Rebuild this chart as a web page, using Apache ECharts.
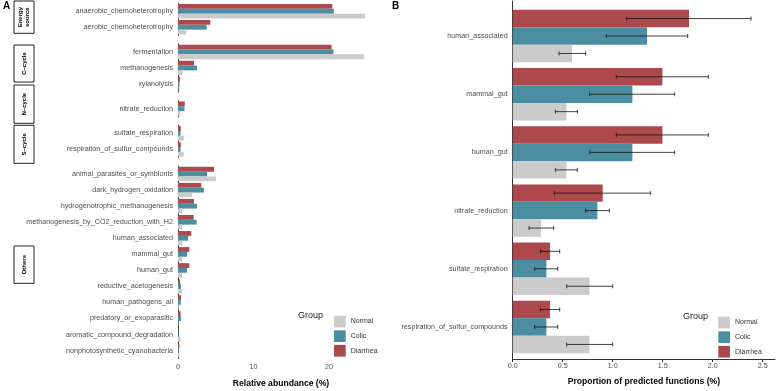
<!DOCTYPE html>
<html>
<head>
<meta charset="utf-8">
<script src="https://cdn.jsdelivr.net/npm/echarts@6/dist/echarts.min.js"></script>
<style>
  html, body { margin: 0; padding: 0; background: #fff; }
  #chart { width: 776px; height: 391px; }
</style>
</head>
<body>
<div id="chart"></div>
<script>
var chart = echarts.init(document.getElementById('chart'));

// ---- panel A data (top to bottom) ----
let funcsA = [
    'anaerobic_chemoheterotrophy', 'aerobic_chemoheterotrophy',
    'fermentation', 'methanogenesis', 'xylanolysis',
    'nitrate_reduction',
    'sulfate_respiration', 'respiration_of_sulfur_compounds',
    'animal_parasites_or_symbionts', 'dark_hydrogen_oxidation', 'hydrogenotrophic_methanogenesis',
    'methanogenesis_by_CO2_reduction_with_H2', 'human_associated', 'mammal_gut', 'human_gut',
    'reductive_acetogenesis', 'human_pathogens_all', 'predatory_or_exoparasitic',
    'aromatic_compound_degradation', 'nonphotosynthetic_cyanobacteria'
];
let facetNames = ['Energy\nsource', 'C\u2013cycle', 'N\u2013cycle', 'S\u2013cycle', 'Others'];
let facetSizes = [2, 3, 1, 2, 12];
let normalA = [24.8, 1.1, 24.65, 0.58, 0.05, 0.28, 0.77, 0.77, 5.03, 1.9, 0.57, 0.53, 0.59, 0.54, 0.54, 0.53, 0.1, 0.05, 0.35, 0.1];
let colicA = [20.65, 3.8, 20.6, 2.52, 0.2, 0.85, 0.34, 0.34, 3.84, 3.44, 2.52, 2.47, 1.34, 1.2, 1.2, 0.4, 0.35, 0.4, 0.1, 0.12];
let diarrheaA = [20.45, 4.28, 20.35, 2.12, 0.27, 0.9, 0.37, 0.37, 4.77, 3.09, 2.12, 2.08, 1.76, 1.5, 1.5, 0.27, 0.4, 0.35, 0.05, 0.18];
let ticksA = [0, 10, 20];

// ---- panel B data ----
let funcsB = ['human_associated', 'mammal_gut', 'human_gut', 'nitrate_reduction', 'sulfate_respiration', 'respiration_of_sulfur_compounds'];
let normalB = [0.593, 0.537, 0.537, 0.283, 0.767, 0.767];
let normalLo = [0.463, 0.427, 0.427, 0.163, 0.54, 0.54];
let normalHi = [0.73, 0.647, 0.647, 0.41, 1.0, 1.0];
let colicB = [1.343, 1.197, 1.197, 0.847, 0.337, 0.337];
let colicLo = [0.936, 0.77, 0.77, 0.73, 0.22, 0.22];
let colicHi = [1.75, 1.62, 1.62, 0.967, 0.45, 0.45];
let diarrheaB = [1.763, 1.497, 1.497, 0.90, 0.373, 0.373];
let diarrheaLo = [1.14, 1.036, 1.036, 0.417, 0.277, 0.277];
let diarrheaHi = [2.383, 1.956, 1.956, 1.38, 0.47, 0.47];
let ticksB = [0, 0.5, 1.0, 1.5, 2.0, 2.5];

let groups = ['Normal', 'Colic', 'Diarrhea'];
let colors = {Normal: '#CBCBCB', Colic: '#4B8EA2', Diarrhea: '#AD484C'};
let font = 'Liberation Sans';
let axisCol = '#333333';
let labelCol = '#4D4D4D';

let grids = [], xAxes = [], yAxes = [], series = [];

// panel A: one grid per facet
let unitA = 16.05, gapA = 5.4;
let panelTop = 1.6, start = 0;
facetSizes.forEach((n, i) => {
    let last = i === facetSizes.length - 1;
    grids.push({left: 178, width: 206, top: panelTop + 0.1 * unitA, height: n * unitA});
    xAxes.push({
        gridIndex: i, type: 'value', min: 0, max: 27.3, interval: 10, show: last,
        offset: 1.6,
        axisLine: {lineStyle: {color: axisCol, width: 1}},
        axisTick: {length: 2.5, lineStyle: {color: axisCol}, customValues: ticksA},
        axisLabel: {fontSize: 7.2, color: labelCol, margin: 3, fontFamily: font, customValues: ticksA},
        splitLine: {show: false},
        name: 'Relative abundance (%)', nameLocation: 'middle', nameGap: 19,
        nameTextStyle: {fontSize: 8.6, fontWeight: 'bold', color: '#000', fontFamily: font}
    });
    yAxes.push({
        gridIndex: i, type: 'category', inverse: true,
        data: funcsA.slice(start, start + n),
        axisLine: {lineStyle: {color: axisCol, width: 1}},
        axisTick: {alignWithLabel: true, length: 2.5, lineStyle: {color: axisCol}},
        axisLabel: {fontSize: 7.2, color: labelCol, margin: 5, fontFamily: font}
    });
    let vals = {Normal: normalA, Colic: colicA, Diarrhea: diarrheaA};
    ['Diarrhea', 'Colic', 'Normal'].forEach(g => {
        series.push({
            name: g, type: 'bar', xAxisIndex: i, yAxisIndex: i,
            data: vals[g].slice(start, start + n),
            itemStyle: {color: colors[g]},
            barGap: '0%', barCategoryGap: '10%'
        });
    });
    panelTop += (n + 0.2) * unitA + gapA;
    start += n;
});

// panel B: data grid + frame grid for full-height axes
let bTop = 1.1, bBottom = 361.9, bLeft = 512.7;
let unitB = (bBottom - bTop) / (funcsB.length + 0.2);
let gB = grids.length;
grids.push({left: bLeft, right: 1, top: bTop + 0.1 * unitB, height: funcsB.length * unitB});
grids.push({left: bLeft, right: 1, top: bTop, height: bBottom - bTop});
xAxes.push({gridIndex: gB, type: 'value', min: 0, max: 2.623, show: false, splitLine: {show: false}});
yAxes.push({
    gridIndex: gB, type: 'category', inverse: true, data: funcsB,
    axisLine: {show: false},
    axisTick: {alignWithLabel: true, length: 2.5, lineStyle: {color: axisCol}},
    axisLabel: {fontSize: 7.2, color: labelCol, margin: 5, fontFamily: font}
});
xAxes.push({
    gridIndex: gB + 1, type: 'value', min: 0, max: 2.623, interval: 0.5,
    axisLine: {lineStyle: {color: axisCol, width: 1}},
    axisTick: {length: 2.5, lineStyle: {color: axisCol}, customValues: ticksB},
    axisLabel: {fontSize: 7.2, color: labelCol, margin: 3, fontFamily: font, customValues: ticksB, formatter: v => v.toFixed(1)},
    splitLine: {show: false},
    name: 'Proportion of predicted functions (%)', nameLocation: 'middle', nameGap: 17.5,
    nameTextStyle: {fontSize: 8.6, fontWeight: 'bold', color: '#000', fontFamily: font}
});
yAxes.push({
    gridIndex: gB + 1, type: 'value', min: 0, max: 1,
    axisLine: {show: true, lineStyle: {color: axisCol, width: 1}},
    axisTick: {show: false}, axisLabel: {show: false}, splitLine: {show: false}
});

let valsB = {Normal: normalB, Colic: colicB, Diarrhea: diarrheaB};
['Diarrhea', 'Colic', 'Normal'].forEach(g => {
    series.push({
        name: g, type: 'bar', xAxisIndex: gB, yAxisIndex: gB,
        data: valsB[g],
        itemStyle: {color: colors[g]},
        barGap: '0%', barCategoryGap: '10%'
    });
});

// error bars: [category, low, high, slot] slot 0 = top bar
let errData = [];
[[diarrheaLo, diarrheaHi], [colicLo, colicHi], [normalLo, normalHi]].forEach((p, slot) => {
    funcsB.forEach((f, k) => errData.push([k, p[0][k], p[1][k], slot]));
});
series.push({
    type: 'custom', xAxisIndex: gB, yAxisIndex: gB, z: 5,
    encode: {x: [1, 2], y: 0},
    data: errData,
    renderItem: (params, api) => {
        let cat = api.value(0);
        let a = api.coord([api.value(1), cat]);
        let b = api.coord([api.value(2), cat]);
        let band = api.size([0, 1])[1];
        let dy = (api.value(3) - 1) * band * 0.3;
        let y = a[1] + dy, h = 2;
        let st = {stroke: 'rgba(20,20,20,0.8)', lineWidth: 1};
        return {
            type: 'group',
            children: [
                {type: 'line', shape: {x1: a[0], y1: y, x2: b[0], y2: y}, style: st},
                {type: 'line', shape: {x1: a[0], y1: y - h, x2: a[0], y2: y + h}, style: st},
                {type: 'line', shape: {x1: b[0], y1: y - h, x2: b[0], y2: y + h}, style: st}
            ]
        };
    }
});

// facet strip boxes on the left of panel A
let stripBoxes = [[1, 32.3], [45, 37], [85, 38.3], [125.3, 38], [246, 37.3]];
let graphics = [];
facetNames.forEach((name, i) => {
    let b = stripBoxes[i];
    graphics.push({
        type: 'rect', shape: {x: 14, y: b[0], width: 20, height: b[1]},
        style: {fill: '#fff', stroke: '#222', lineWidth: 1}
    });
    graphics.push({
        type: 'text', x: 24, y: b[0] + b[1] / 2, rotation: Math.PI / 2,
        style: {text: name, font: 'bold 6px "Liberation Sans"', fill: '#000', align: 'center', verticalAlign: 'middle', lineHeight: 7}
    });
});

let legendBase = {
    orient: 'vertical', icon: 'rect', itemWidth: 11.7, itemHeight: 11.7, itemGap: 2.9,
    data: groups, selectedMode: false,
    textStyle: {fontSize: 7, color: '#333', fontFamily: font}
};

option = {
    backgroundColor: '#fff',
    animation: false,
    textStyle: {fontFamily: font},
    title: [
        {text: 'A', left: 3, top: 1, padding: 0, textStyle: {fontSize: 10, fontWeight: 'bold', color: '#000'}},
        {text: 'B', left: 392, top: 1, padding: 0, textStyle: {fontSize: 10, fontWeight: 'bold', color: '#000'}},
        {text: 'Group', left: 298, top: 311.5, padding: 0, textStyle: {fontSize: 9, fontWeight: 'normal', color: '#222'}},
        {text: 'Group', left: 683, top: 312.5, padding: 0, textStyle: {fontSize: 9, fontWeight: 'normal', color: '#222'}}
    ],
    legend: [
        Object.assign({left: 329, top: 310.7}, legendBase),
        Object.assign({left: 713.3, top: 311.7}, legendBase)
    ],
    grid: grids,
    xAxis: xAxes,
    yAxis: yAxes,
    graphic: graphics,
    series: series
};
chart.setOption(option);
</script>
</body>
</html>
